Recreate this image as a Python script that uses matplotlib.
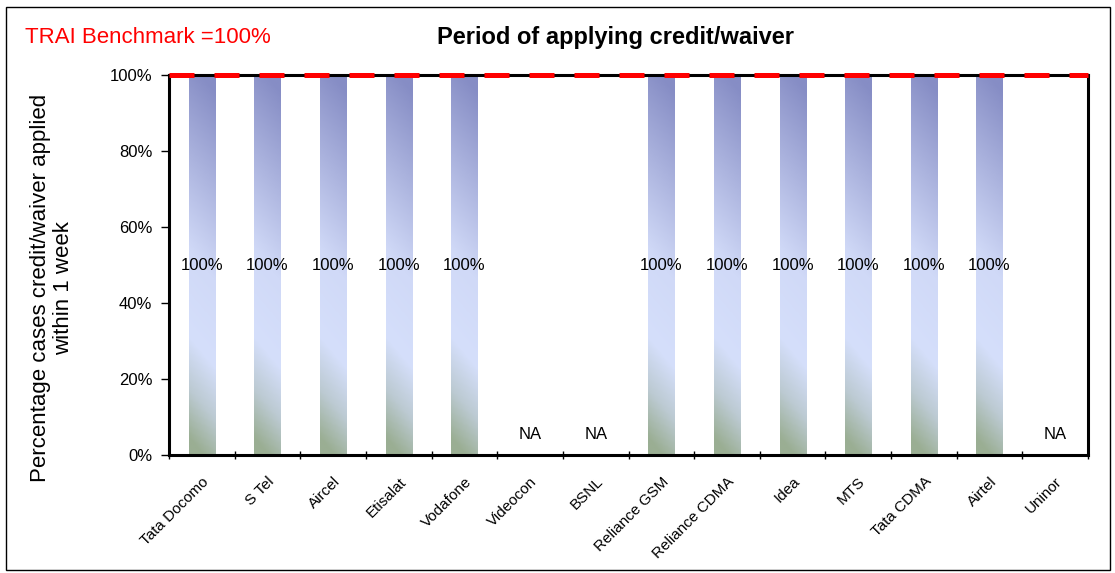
import numpy as np
import matplotlib.pyplot as plt
from matplotlib.colors import LinearSegmentedColormap
from matplotlib.patches import Rectangle

plt.rcParams['font.family'] = ['Liberation Sans', 'DejaVu Sans']

operators = ['Tata Docomo', 'S Tel', 'Aircel', 'Etisalat', 'Vodafone', 'Videocon',
             'BSNL', 'Reliance GSM', 'Reliance CDMA', 'Idea', 'MTS', 'Tata CDMA',
             'Airtel', 'Uninor']
# percentage of cases; None = not applicable
pct_applied = [100, 100, 100, 100, 100, None, None, 100, 100, 100, 100, 100, 100, None]
benchmark = 100
yticks = [0, 20, 40, 60, 80, 100]

fig = plt.figure(figsize=(11.15, 5.73), dpi=100)
ax = fig.add_axes([0.1516, 0.2059, 0.8242, 0.6632])

# bar gradient: dark blue top -> pale blue middle -> grey green bottom
cmap = LinearSegmentedColormap.from_list(
    'bar', [(0.0, '#9aae93'), (0.13, '#bccad2'), (0.27, '#d5dffb'),
            (0.5, '#d0d9f7'), (1.0, '#868dc5')])
yy = np.linspace(0, 1, 200)[:, None]
xx = np.linspace(0, 1, 20)[None, :]
grad = np.clip(yy + 0.08 * (xx - 0.5), 0, 1)

x = np.arange(len(operators))
width = 0.4
for xi, val in zip(x, pct_applied):
    if val is None:
        ax.text(xi, 5.3, 'NA', ha='center', va='center', fontsize=12)
        continue
    ax.imshow(grad, cmap=cmap, vmin=0, vmax=1, origin='lower', aspect='auto',
              extent=[xi - width / 2, xi + width / 2, 0, val], zorder=1,
              interpolation='bilinear')
    ax.text(xi, val / 2, f'{val}%', ha='center', va='center', fontsize=12, zorder=3)

ax.axhline(benchmark, color='red', lw=3.6, dashes=(5, 4), solid_capstyle='butt',
           dash_capstyle='butt', zorder=6, clip_on=False)

ax.set_xlim(-0.5, len(operators) - 0.5)
ax.set_ylim(0, 100)
ax.set_yticks(yticks)
ax.set_yticklabels([f'{t}%' for t in yticks], fontsize=12)
ax.set_xticks(np.arange(len(operators) + 1) - 0.5)
ax.set_xticklabels([])
ax.set_xticks(x, minor=True)
ax.set_xticklabels(operators, minor=True, rotation=45, ha='right', va='top',
                   rotation_mode='anchor', fontsize=11)
ax.tick_params(axis='x', which='minor', length=0, pad=14)
ax.tick_params(axis='x', which='major', length=6, direction='inout', width=1)
ax.tick_params(axis='y', length=6, width=1, pad=6)
for s in ax.spines.values():
    s.set_linewidth(2.2)
    s.set_zorder(5)

fig.text(0.0466, 0.497, 'Percentage cases credit/waiver applied\nwithin 1 week',
         rotation=90, ha='center', va='center', fontsize=16, linespacing=1.1)
fig.text(0.5516, 0.934, 'Period of applying credit/waiver', ha='center',
         va='center', fontsize=17, fontweight='bold')
fig.text(0.0224, 0.934, 'TRAI Benchmark =100%', ha='left', va='center',
         fontsize=16, color='red')

fig.patches.append(Rectangle((0.0054, 0.005), 0.99, 0.9825, transform=fig.transFigure,
                             fill=False, edgecolor='black', lw=1))

fig.savefig('out.png', dpi=100)
